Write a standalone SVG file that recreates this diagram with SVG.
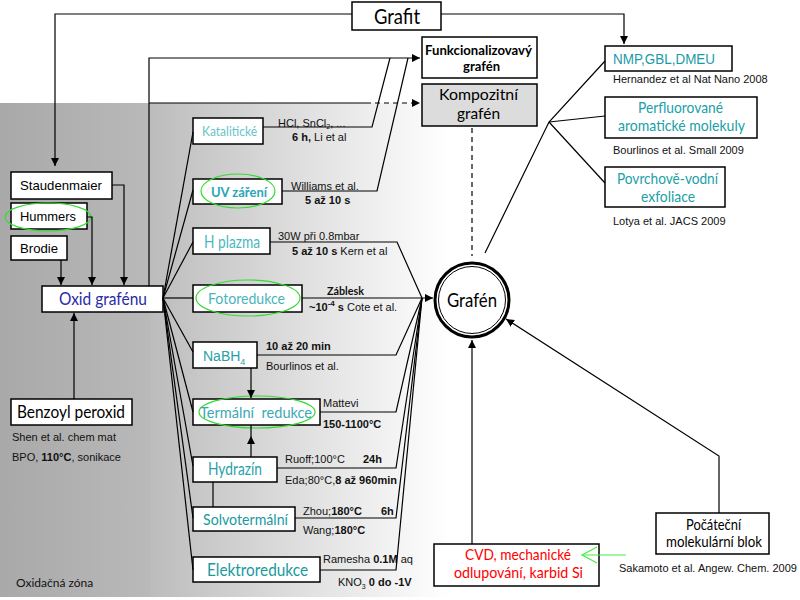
<svg xmlns="http://www.w3.org/2000/svg" width="800" height="600" viewBox="0 0 800 600">
<style>
.box{fill:#fff;stroke:#000;stroke-width:1.5}
.ln{fill:none;stroke:#000;stroke-width:1.2}
.ell{fill:none;stroke:#33dd33;stroke-width:1.2}
.cal{font-family:Lato,"Open Sans","Liberation Sans",sans-serif}
.ari{font-family:"Liberation Sans",Arial,sans-serif}
.cit{font-family:"Liberation Sans",Arial,sans-serif;font-size:11px;fill:#111}
.b{font-weight:bold}
</style>
<defs>
<marker id="ah" viewBox="0 0 10 10" refX="10" refY="5" markerWidth="8" markerHeight="8" markerUnits="userSpaceOnUse" orient="auto">
<path d="M0,0 L10,5 L0,10 z" fill="#000"/>
</marker>
<linearGradient id="gL" x1="0" y1="0" x2="1" y2="0">
<stop offset="0" stop-color="#a9a9a9"/>
<stop offset="1" stop-color="#b9b9b9"/>
</linearGradient>
<linearGradient id="gR" x1="0" y1="0" x2="1" y2="0">
<stop offset="0" stop-color="#bcbcbc"/>
<stop offset="0.55" stop-color="#e2e2e2"/>
<stop offset="1" stop-color="#ffffff"/>
</linearGradient>
</defs>

<g id="background">
<rect x="0" y="103" width="150" height="494" fill="url(#gL)"/>
<rect x="150" y="103" width="300" height="494" fill="url(#gR)"/>
<text x="16" y="587" class="cal" font-size="12" fill="#111">Oxidačná zóna</text>
</g>

<g id="grafit">
<rect class="box" x="352" y="2" width="89" height="28"/>
<text x="374" y="24" class="cal" font-size="21" textLength="46" lengthAdjust="spacingAndGlyphs">Grafit</text>
</g>

<g id="staudenmaier">
<rect class="box" x="11" y="172" width="101" height="27"/>
<text x="20" y="190" class="ari" font-size="13.5" textLength="82" lengthAdjust="spacingAndGlyphs">Staudenmaier</text>
</g>
<g id="hummers">
<rect class="box" x="11" y="203" width="76" height="26"/>
<ellipse class="ell" cx="48" cy="217" rx="43" ry="14"/>
<text x="20" y="221" class="ari" font-size="13.5" textLength="56" lengthAdjust="spacingAndGlyphs">Hummers</text>
</g>
<g id="brodie">
<rect class="box" x="11" y="236" width="56" height="24"/>
<text x="20" y="253" class="ari" font-size="13.5" textLength="38" lengthAdjust="spacingAndGlyphs">Brodie</text>
</g>
<g id="oxid">
<rect class="box" x="42" y="286" width="121" height="26"/>
<text x="59" y="305" class="cal" font-size="17" fill="#2a2aa8" textLength="88" lengthAdjust="spacingAndGlyphs">Oxid grafénu</text>
</g>
<g id="benzoyl">
<rect class="box" x="11" y="399" width="121" height="26"/>
<text x="17" y="418" class="cal" font-size="18" textLength="108" lengthAdjust="spacingAndGlyphs">Benzoyl peroxid</text>
<text x="12" y="441" class="cit">Shen et al. chem mat</text>
<text x="12" y="461" class="cit">BPO, <tspan class="b">110°C</tspan>, sonikace</text>
</g>

<g id="katalyticke">
<rect class="box" x="193" y="118" width="70" height="26"/>
<text x="202" y="136" class="cal" font-size="14" fill="#66c4c8" textLength="55" lengthAdjust="spacingAndGlyphs">Katalitické</text>
<text x="278" y="127" class="cit">HCl, SnCl<tspan font-size="7" dy="2">2</tspan><tspan dy="-2">, ...</tspan></text>
<text x="292" y="141" class="cit"><tspan class="b">6 h,</tspan> Li et al</text>
</g>
<g id="uv">
<rect class="box" x="193" y="179" width="89" height="25"/>
<ellipse class="ell" cx="238" cy="191" rx="37" ry="17"/>
<text x="211" y="197" class="cal b" font-size="14" fill="#2aa6b6" textLength="56" lengthAdjust="spacingAndGlyphs">UV záření</text>
<text x="291" y="190" class="cit">Williams et al.</text>
<text x="305" y="204" class="cit b">5 až 10 s</text>
</g>
<g id="hplazma">
<rect class="box" x="193" y="228" width="77" height="26"/>
<text x="204" y="248" class="cal" font-size="17" fill="#4ab8c0" textLength="56" lengthAdjust="spacingAndGlyphs">H plazma</text>
<text x="278" y="240" class="cit">30W při 0.8mbar</text>
<text x="292" y="255" class="cit"><tspan class="b">5 až 10 s</tspan> Kern et al</text>
</g>
<g id="fotoredukce">
<rect class="box" x="193" y="285" width="109" height="27"/>
<ellipse class="ell" cx="248" cy="298" rx="52" ry="18"/>
<text x="208" y="304" class="cal" font-size="16" fill="#4ab4bc" textLength="77" lengthAdjust="spacingAndGlyphs">Fotoredukce</text>
<text x="327" y="295" class="cal b" font-size="12" fill="#111" textLength="37" lengthAdjust="spacingAndGlyphs">Záblesk</text>
<text x="309" y="311" class="cit"><tspan class="b">~10<tspan font-size="8" dy="-5">-4</tspan><tspan dy="5"> s</tspan></tspan> Cote et al.</text>
</g>
<g id="nabh4">
<rect class="box" x="193" y="342" width="64" height="26"/>
<text x="203" y="361" class="ari" font-size="14" fill="#2a9fa8">NaBH<tspan font-size="9" dy="4">4</tspan></text>
<text x="266" y="350" class="cit b">10 až 20 min</text>
<text x="266" y="370" class="cit">Bourlinos et al.</text>
</g>
<g id="termalni">
<rect class="box" x="193" y="399" width="127" height="26"/>
<ellipse class="ell" cx="257" cy="412" rx="58" ry="16"/>
<text x="200" y="418" class="cal" font-size="16" fill="#3aaab4" xml:space="preserve" textLength="112" lengthAdjust="spacingAndGlyphs">Termální  redukce</text>
<text x="323" y="407" class="cit">Mattevi</text>
<text x="323" y="428" class="cit b">150-1100°C</text>
</g>
<g id="hydrazin">
<rect class="box" x="193" y="457" width="84" height="25"/>
<text x="208" y="475" class="cal" font-size="17" fill="#2a9fa8" textLength="54" lengthAdjust="spacingAndGlyphs">Hydrazín</text>
<text x="285" y="463" class="cit">Ruoff;100°C</text>
<text x="363" y="463" class="cit b">24h</text>
<text x="285" y="484" class="cit">Eda;80°C,<tspan class="b">8 až 960min</tspan></text>
</g>
<g id="solvotermalni">
<rect class="box" x="193" y="507" width="102" height="24"/>
<text x="203" y="525" class="cal" font-size="16" fill="#1a9a9e" textLength="85" lengthAdjust="spacingAndGlyphs">Solvotermální</text>
<text x="303" y="515" class="cit">Zhou;<tspan class="b">180°C</tspan></text>
<text x="381" y="515" class="cit b">6h</text>
<text x="303" y="534" class="cit">Wang;<tspan class="b">180°C</tspan></text>
</g>
<g id="elektroredukce">
<rect class="box" x="193" y="557" width="127" height="25"/>
<text x="207" y="576" class="cal" font-size="18" fill="#1a9a9e" textLength="101" lengthAdjust="spacingAndGlyphs">Elektroredukce</text>
<text x="323" y="563" class="cit">Ramesha <tspan class="b">0.1M</tspan> aq</text>
<text x="338" y="586" class="cit">KNO<tspan font-size="7" dy="3">3</tspan><tspan dy="-3" class="b"> 0 do -1V</tspan></text>
</g>

<g id="funkcionalizovany">
<rect class="box" x="422" y="37" width="115" height="41"/>
<text x="425" y="55" class="cal b" font-size="12.5" textLength="107" lengthAdjust="spacingAndGlyphs">Funkcionalizovavý</text>
<text x="463" y="71" class="cal b" font-size="12.5" textLength="37" lengthAdjust="spacingAndGlyphs">grafén</text>
</g>
<g id="kompozitni">
<rect x="422" y="84" width="115" height="42" fill="#dcdcdc" stroke="#000" stroke-width="1.5"/>
<text x="439" y="100" class="cal" font-size="16" textLength="79" lengthAdjust="spacingAndGlyphs">Kompozitní</text>
<text x="457" y="119" class="cal" font-size="16" textLength="43" lengthAdjust="spacingAndGlyphs">grafén</text>
</g>

<g id="grafen">
<circle cx="472" cy="300" r="37" fill="#fff" stroke="#000" stroke-width="3"/>
<circle cx="472" cy="300" r="33.5" fill="none" stroke="#000" stroke-width="1"/>
<text x="447" y="307" class="cal" font-size="20" textLength="50" lengthAdjust="spacingAndGlyphs">Grafén</text>
</g>

<g id="nmp">
<rect class="box" x="605" y="46" width="127" height="25"/>
<text x="613" y="64" class="ari" font-size="14.5" fill="#1a9aa8" textLength="102" lengthAdjust="spacingAndGlyphs">NMP,GBL,DMEU</text>
<text x="613" y="83" class="cit">Hernandez et al Nat Nano 2008</text>
</g>
<g id="perfluorovane">
<rect class="box" x="605" y="97" width="152" height="41"/>
<text x="638" y="113" class="cal" font-size="15" fill="#20a0a8" textLength="85" lengthAdjust="spacingAndGlyphs">Perfluorované</text>
<text x="618" y="131" class="cal" font-size="15" fill="#20a0a8" textLength="127" lengthAdjust="spacingAndGlyphs">aromatické molekuly</text>
<text x="613" y="154" class="cit">Bourlinos et al. Small 2009</text>
</g>
<g id="povrchove">
<rect class="box" x="605" y="167" width="120" height="40"/>
<text x="617" y="184" class="cal" font-size="15" fill="#20a0a8" textLength="101" lengthAdjust="spacingAndGlyphs">Povrchově-vodní</text>
<text x="641" y="202" class="cal" font-size="15" fill="#20a0a8" textLength="54" lengthAdjust="spacingAndGlyphs">exfoliace</text>
<text x="613" y="225" class="cit">Lotya et al. JACS 2009</text>
</g>

<g id="cvd">
<rect class="box" x="434" y="544" width="165" height="42"/>
<text x="465" y="560" class="cal" font-size="15" fill="#ff0000" textLength="106" lengthAdjust="spacingAndGlyphs">CVD, mechanické</text>
<text x="454" y="578" class="cal" font-size="15" fill="#ff0000" textLength="129" lengthAdjust="spacingAndGlyphs">odlupování, karbid Si</text>
</g>
<g id="pocatecni">
<rect class="box" x="656" y="513" width="113" height="41"/>
<text x="686" y="530" class="cal" font-size="15" textLength="55" lengthAdjust="spacingAndGlyphs">Počáteční</text>
<text x="666" y="547" class="cal" font-size="15" textLength="96" lengthAdjust="spacingAndGlyphs">molekulární blok</text>
<text x="619" y="572" class="cit">Sakamoto et al. Angew. Chem. 2009</text>
</g>

<g id="connectors">
<polyline class="ln" points="352,14 55,14 55,166" marker-end="url(#ah)"/>
<polyline class="ln" points="441,14 624,14 624,44" marker-end="url(#ah)"/>
<polyline class="ln" points="112,185 124,185 124,285" marker-end="url(#ah)"/>
<polyline class="ln" points="87,217 92,217 92,285" marker-end="url(#ah)"/>
<line class="ln" x1="61" y1="260" x2="61" y2="285" marker-end="url(#ah)"/>
<line class="ln" x1="74" y1="399" x2="74" y2="313" marker-end="url(#ah)"/>
<polyline class="ln" points="149,286 149,58 420,58" marker-end="url(#ah)"/>
<line class="ln" x1="149" y1="103" x2="366" y2="103"/>
<line class="ln" x1="366" y1="103" x2="420" y2="103" stroke-dasharray="5,4" marker-end="url(#ah)"/>
<polyline class="ln" points="263,127 372,127 390,58"/>
<polyline class="ln" points="282,191 377,191 408,58"/>
<line class="ln" x1="163" y1="298" x2="193" y2="132"/>
<line class="ln" x1="163" y1="298" x2="193" y2="190"/>
<line class="ln" x1="163" y1="298" x2="193" y2="242"/>
<line class="ln" x1="163" y1="298" x2="193" y2="298"/>
<line class="ln" x1="163" y1="298" x2="193" y2="352"/>
<line class="ln" x1="163" y1="298" x2="193" y2="412"/>
<line class="ln" x1="163" y1="298" x2="193" y2="466"/>
<line class="ln" x1="163" y1="298" x2="193" y2="518"/>
<line class="ln" x1="163" y1="298" x2="193" y2="570"/>
<polyline class="ln" points="270,242 397,242 422,298"/>
<line class="ln" x1="302" y1="298" x2="433" y2="298" marker-end="url(#ah)"/>
<polyline class="ln" points="257,355 396,355 422,298"/>
<polyline class="ln" points="320,412 396,412 422,298"/>
<polyline class="ln" points="277,468 396,468 422,298"/>
<polyline class="ln" points="295,518 396,518 422,298"/>
<polyline class="ln" points="320,570 396,570 422,298"/>
<line class="ln" x1="251" y1="368" x2="251" y2="398" marker-end="url(#ah)"/>
<line class="ln" x1="251" y1="425" x2="251" y2="457"/>
<path d="M247,444 L251,436 L255,444 z" fill="#000"/>
<line class="ln" x1="213" y1="482" x2="213" y2="507"/>
<line class="ln" x1="472" y1="128" x2="472" y2="256" stroke-dasharray="5,4"/>
<polyline class="ln" points="485,253 549,122 605,61"/>
<line class="ln" x1="549" y1="122" x2="605" y2="116"/>
<line class="ln" x1="549" y1="122" x2="605" y2="183"/>
<line class="ln" x1="472" y1="544" x2="472" y2="340" marker-end="url(#ah)"/>
<polyline class="ln" points="719,513 719,456 506,319" marker-end="url(#ah)"/>
<g stroke="#44ee44" stroke-width="1.2" fill="none">
<line x1="626" y1="555" x2="582" y2="555"/>
<polyline points="597,547 582,555 597,563"/>
</g>
</g>
</svg>
